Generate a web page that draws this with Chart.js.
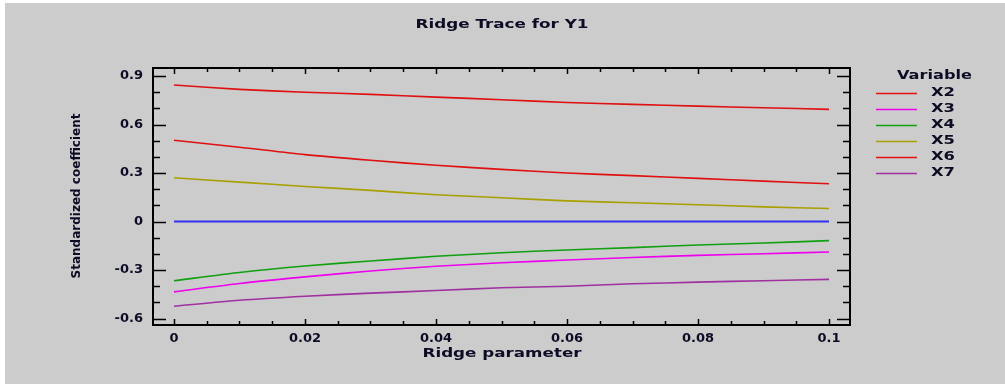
<!DOCTYPE html>
<html><head><meta charset="utf-8">
<script src="https://cdn.jsdelivr.net/npm/chart.js@4"></script>
<style>html,body{margin:0;padding:0;background:#fff;overflow:hidden}#wrap{position:absolute;left:0;top:0;width:1005px;height:384px}</style>
</head><body><div id="wrap"><canvas id="c" width="1005" height="384"></canvas></div>
<script>
const ridgeParams = [0, 0.01, 0.02, 0.03, 0.04, 0.05, 0.06, 0.07, 0.08, 0.09, 0.1];
const x2 = [0.845, 0.818, 0.800, 0.787, 0.770, 0.754, 0.737, 0.725, 0.714, 0.704, 0.694];
const x3 = [-0.435, -0.383, -0.342, -0.306, -0.277, -0.255, -0.238, -0.222, -0.209, -0.199, -0.188];
const x4 = [-0.366, -0.315, -0.275, -0.244, -0.215, -0.193, -0.176, -0.161, -0.145, -0.133, -0.118];
const x5 = [0.271, 0.244, 0.217, 0.193, 0.166, 0.147, 0.128, 0.116, 0.104, 0.091, 0.081];
const x6 = [0.503, 0.460, 0.414, 0.379, 0.348, 0.323, 0.300, 0.284, 0.267, 0.250, 0.234];
const x7 = [-0.524, -0.487, -0.462, -0.443, -0.427, -0.410, -0.400, -0.385, -0.375, -0.366, -0.358];
const zeroLine = [0, 0, 0, 0, 0, 0, 0, 0, 0, 0, 0];
const seriesNames = ['X2', 'X3', 'X4', 'X5', 'X6', 'X7'];
const seriesColors = ['#e01010', '#ee00ee', '#10a010', '#a8a000', '#e01010', '#a030a0'];
const xTickValues = [0, 0.02, 0.04, 0.06, 0.08, 0.1];
const yTickValues = [-0.6, -0.3, 0, 0.3, 0.6, 0.9];
const xMinorStep = 0.005;
const yMinorStep = 0.1;

const seriesData = [x2, x3, x4, x5, x6, x7];
const datasets = seriesNames.map((n, i) => ({
  label: n,
  data: ridgeParams.map((p, j) => ({x: p, y: seriesData[i][j]})),
  borderColor: seriesColors[i],
  borderWidth: 1.6,
  pointRadius: 0,
  tension: 0.25,
  fill: false
}));
datasets.push({
  label: 'zero',
  data: ridgeParams.map((p, j) => ({x: p, y: zeroLine[j]})),
  borderColor: '#3030f0',
  borderWidth: 2,
  pointRadius: 0,
  fill: false
});

const TXT = '#0c0c24';
const FONT = 'DejaVu Sans';
function fmt(v) { const r = Math.round(v * 10000) / 10000; return r === 0 ? '0' : String(r); }
function stretchText(ctx, text, cx, cy, w, size, align) {
  ctx.save();
  ctx.font = 'bold ' + size + 'px "' + FONT + '"';
  const m = ctx.measureText(text).width;
  const sx = w / m;
  ctx.translate(cx, cy);
  ctx.scale(sx, 1);
  ctx.textBaseline = 'middle';
  ctx.textAlign = align || 'center';
  ctx.fillStyle = TXT;
  ctx.fillText(text, 0, 0);
  ctx.restore();
}

const decor = {
  id: 'decor',
  beforeDraw(chart) {
    const ctx = chart.ctx;
    ctx.save();
    ctx.fillStyle = '#ffffff';
    ctx.fillRect(0, 0, chart.width, chart.height);
    ctx.fillStyle = '#cccccc';
    ctx.fillRect(5, 3, chart.width - 5, chart.height - 3);
    ctx.restore();
  },
  afterDraw(chart) {
    const ctx = chart.ctx;
    const a = chart.chartArea;
    const xs = chart.scales.x, ys = chart.scales.y;
    ctx.save();
    ctx.strokeStyle = '#000';
    ctx.lineWidth = 2;
    ctx.strokeRect(a.left, a.top, a.right - a.left, a.bottom - a.top);
    ctx.lineWidth = 1.5;
    ctx.beginPath();
    for (let v = 0; v <= 0.1 + 1e-9; v += xMinorStep) {
      const px = Math.round(xs.getPixelForValue(v)) + 0.5;
      const major = xTickValues.some(t => Math.abs(t - v) < 1e-9);
      const len = major ? 6 : 4;
      ctx.moveTo(px, a.bottom); ctx.lineTo(px, a.bottom - len);
      ctx.moveTo(px, a.top); ctx.lineTo(px, a.top + len);
    }
    for (let k = -6; k <= 9; k++) {
      const v = k * yMinorStep;
      const py = Math.round(ys.getPixelForValue(v)) + 0.5;
      const major = yTickValues.some(t => Math.abs(t - v) < 1e-9);
      const len = major ? 13 : 7;
      ctx.moveTo(a.left, py); ctx.lineTo(a.left + len, py);
      ctx.moveTo(a.right, py); ctx.lineTo(a.right - len, py);
    }
    ctx.stroke();
    ctx.restore();

    stretchText(ctx, 'Ridge Trace for Y1', 502, 25, 173, 13);
    stretchText(ctx, 'Ridge parameter', 502, 354, 159, 13);
    ctx.save();
    ctx.translate(77, 196);
    ctx.rotate(-Math.PI / 2);
    stretchText(ctx, 'Standardized coefficient', 0, 0, 165, 13);
    ctx.restore();

    stretchText(ctx, 'Variable', 934.5, 76, 75, 13);
    const ly = [93, 109, 125, 141, 157, 173];
    seriesNames.forEach((n, i) => {
      ctx.save();
      ctx.strokeStyle = seriesColors[i];
      ctx.lineWidth = 1.5;
      ctx.beginPath();
      ctx.moveTo(876, ly[i] + 0.5); ctx.lineTo(917, ly[i] + 0.5);
      ctx.stroke();
      ctx.restore();
      stretchText(ctx, n, 931, ly[i], 24, 13, 'left');
    });
  }
};

new Chart(document.getElementById('c'), {
  type: 'line',
  data: { datasets },
  plugins: [decor],
  options: {
    responsive: false,
    animation: false,
    devicePixelRatio: 1,
    layout: { padding: { left: 0, top: 68, right: 155, bottom: 0 } },
    plugins: { legend: { display: false }, title: { display: false }, tooltip: { enabled: false } },
    scales: {
      x: {
        type: 'linear',
        min: -0.0032, max: 0.1032,
        grid: { display: false, drawTicks: false },
        border: { display: false },
        afterBuildTicks: s => { s.ticks = xTickValues.map(v => ({ value: v })); },
        afterFit: s => { s.height = 59; },
        ticks: {
          autoSkip: false, maxRotation: 0, padding: 6,
          color: TXT,
          font: { family: FONT, size: 13, weight: 'bold' },
          callback: v => fmt(v)
        }
      },
      y: {
        type: 'linear',
        min: -0.64, max: 0.95,
        grid: { display: false, drawTicks: false },
        border: { display: false },
        afterBuildTicks: s => { s.ticks = yTickValues.map(v => ({ value: v })); },
        afterFit: s => { s.width = 153; },
        ticks: {
          autoSkip: false, padding: 10,
          color: TXT,
          font: { family: FONT, size: 13, weight: 'bold' },
          callback: v => fmt(v)
        }
      }
    }
  }
});
</script></body></html>
